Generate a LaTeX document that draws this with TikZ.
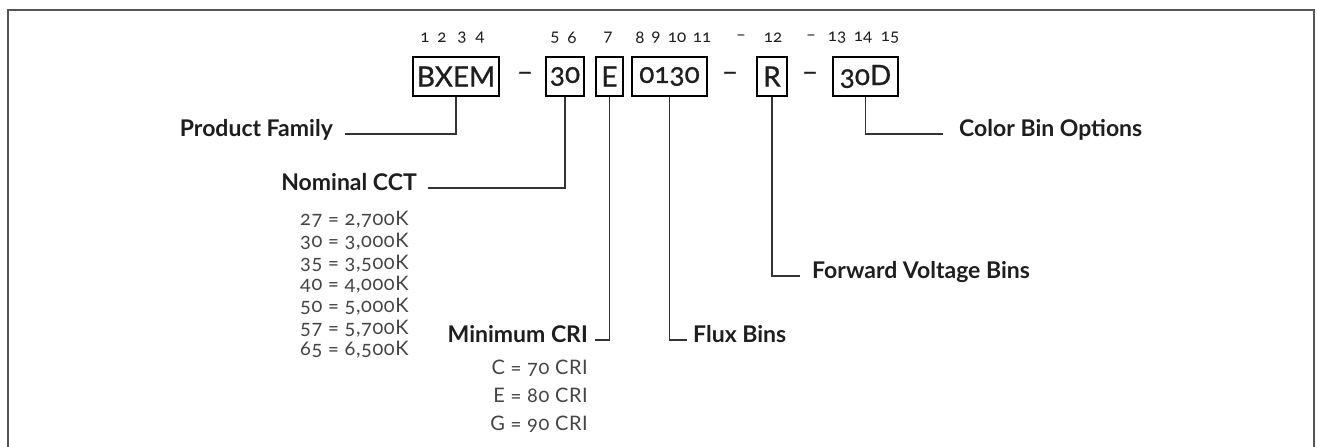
\documentclass[tikz,border=0pt]{standalone}
\usepackage{fontspec}
\setmainfont{Lato}[Numbers=OldStyle]
\newfontfamily\valuefont{Lato}[Numbers=OldStyle,LetterSpace=3]
\newfontfamily\medfont{Lato}[Numbers=OldStyle,FakeBold=0.8]
\usetikzlibrary{positioning}

\definecolor{ink}{HTML}{1E1E1E}
\definecolor{wire}{HTML}{333333}
\definecolor{soft}{HTML}{444444}
\definecolor{rim}{HTML}{555555}

\begin{document}
\begin{tikzpicture}[x=1pt,y=-1pt,
    codebox/.style={draw=black, line width=1.2pt, minimum height=39pt, inner sep=0pt,
                    font=\medfont\fontsize{28}{30}\selectfont, text=ink},
    digit/.style={font=\fontsize{17}{19}\selectfont, text=ink, inner sep=0pt},
    tag/.style={font=\bfseries\fontsize{23}{26}\selectfont, text=ink, inner sep=0pt},
    value/.style={font=\valuefont\fontsize{20}{23}\selectfont, text=soft, inner sep=0pt},
    lead/.style={draw=wire, line width=1.6pt}]
    \useasboundingbox (0,0) rectangle (1317,447);

    % Frame (open at the bottom)
    \draw[rim, line width=1.5pt] (8,447) -- (8,10) -- (1314,10) -- (1314,447);

    % Digit positions
    \foreach \t/\x [count=\i] in {1/425,2/442,3/462,4/480,5/555,6/572,7/608,8/640,9/656,
                                  10/677,11/702,–/741,12/773,–/811,13/837,14/863,15/890}
        \node[digit] (pos\i) at (\x,38) {\t};

    % Part number
    \node[codebox, minimum width=86] (bxem) at (456,76.5) {BXEM};
    \node[font=\medfont\fontsize{28}{30}\selectfont, text=ink] (dash1) at (525,76.5) {–};
    \node[codebox, minimum width=38] (cctbox) at (565,76.5) {30};
    \node[codebox, minimum width=27] (cribox) at (609.5,76.5) {E};
    \node[codebox, minimum width=75] (fluxbox) at (669.5,76.5) {0130};
    \node[font=\medfont\fontsize{28}{30}\selectfont, text=ink] (dash2) at (730,76.5) {–};
    \node[codebox, minimum width=30] (vfbox) at (772,76.5) {R};
    \node[font=\medfont\fontsize{28}{30}\selectfont, text=ink] (dash3) at (810,76.5) {–};
    \node[codebox, minimum width=65] (binbox) at (865.5,76.5) {30D};

    % Labels
    \node[tag, anchor=mid east] (family) at (333,134) {Product Family};
    \node[tag, anchor=mid east] (cct) at (417,188) {Nominal CCT};
    \node[tag, anchor=mid east] (cri) at (588,340) {Minimum CRI};
    \node[tag, anchor=mid west] (flux) at (693,340) {Flux Bins};
    \node[tag, anchor=mid west] (vf) at (812,276) {Forward Voltage Bins};
    \node[tag, anchor=mid west] (bin) at (959,134) {Color Bin Options};

    % Options
    \foreach \v [count=\i] in {{27 = 2,700K},{30 = 3,000K},{35 = 3,500K},{40 = 4,000K},
                               {50 = 5,000K},{57 = 5,700K},{65 = 6,500K}}
        \node[value, anchor=base west] (cct\i) at (300,204+21.7*\i) {\v};
    \foreach \v [count=\i] in {{C = 70 CRI},{E = 80 CRI},{G = 90 CRI}}
        \node[value, anchor=base east] (cri\i) at (588,346+28*\i) {\v};

    % Leads
    \draw[lead] (bxem.south) |- ([xshift=12]family.mid east);
    \draw[lead] (cctbox.south) |- ([xshift=11]cct.mid east);
    \draw[lead] (cribox.south) |- ([xshift=7]cri.mid east);
    \draw[lead] (fluxbox.south) |- ([xshift=-6]flux.mid west);
    \draw[lead] (vfbox.south) |- ([xshift=-12]vf.mid west);
    \draw[lead] (binbox.south) |- ([xshift=-16]bin.mid west);
\end{tikzpicture}
\end{document}
